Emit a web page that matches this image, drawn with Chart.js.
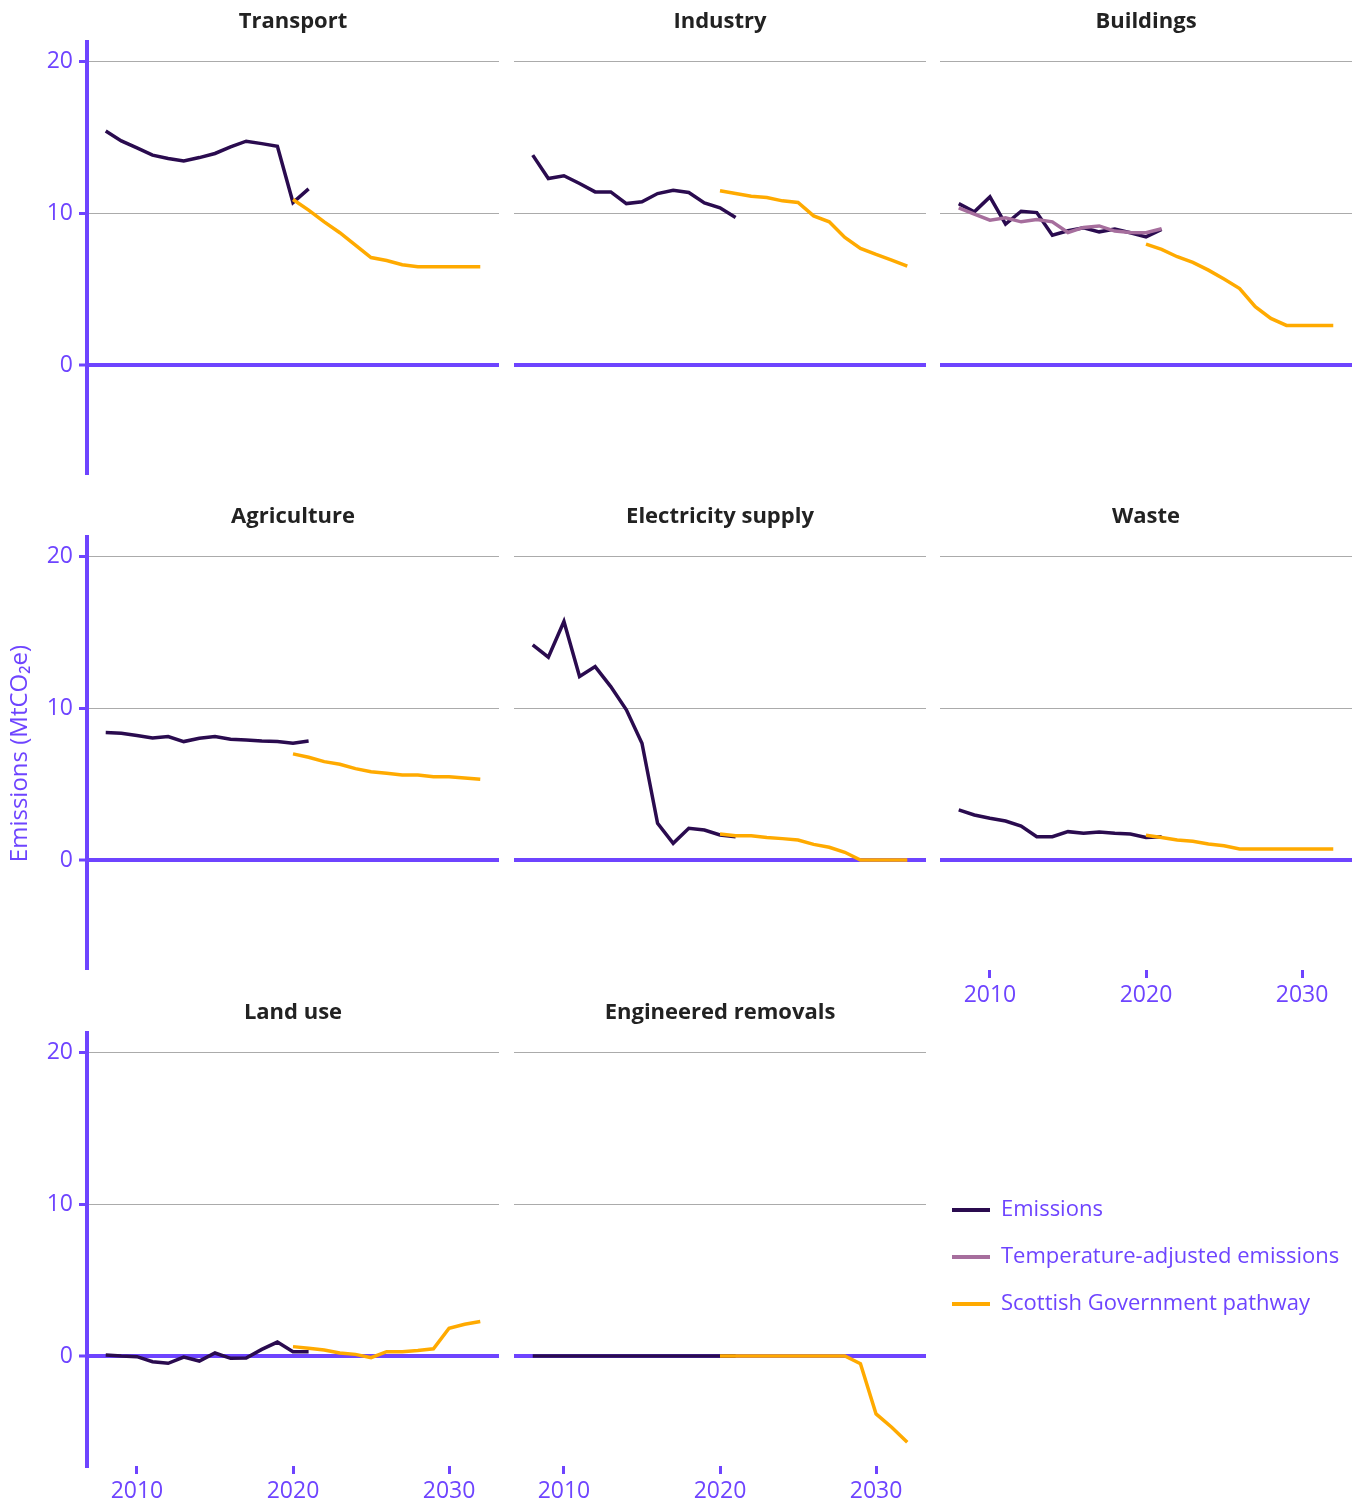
<!DOCTYPE html>
<html>
<head>
<meta charset="utf-8">
<script src="https://cdn.jsdelivr.net/npm/chart.js@4.4.1/dist/chart.umd.min.js"></script>
<style>
  html, body { margin: 0; padding: 0; background: #ffffff; overflow: hidden; }
  body { width: 1365px; height: 1503px; position: relative; }
  canvas { position: absolute; }
</style>
</head>
<body>
<script>
// ---------------- DATA ----------------
const emissionYears = [2008, 2009, 2010, 2011, 2012, 2013, 2014, 2015, 2016, 2017, 2018, 2019, 2020, 2021];
const pathwayYears  = [2020, 2021, 2022, 2023, 2024, 2025, 2026, 2027, 2028, 2029, 2030, 2031, 2032];

const sectorNames = ["Transport", "Industry", "Buildings", "Agriculture", "Electricity supply", "Waste", "Land use", "Engineered removals"];
const seriesNames = ["Emissions", "Temperature-adjusted emissions", "Scottish Government pathway"];

const transportEmissions   = [15.41, 14.76, 14.30, 13.82, 13.60, 13.44, 13.66, 13.93, 14.36, 14.74, 14.58, 14.41, 10.70, 11.60];
const transportPathway     = [10.90, 10.20, 9.43, 8.71, 7.89, 7.08, 6.88, 6.60, 6.47, 6.47, 6.47, 6.47, 6.47];

const industryEmissions    = [13.82, 12.28, 12.46, 11.95, 11.40, 11.40, 10.63, 10.75, 11.29, 11.51, 11.36, 10.68, 10.35, 9.71];
const industryPathway      = [11.47, 11.29, 11.12, 11.03, 10.81, 10.70, 9.82, 9.43, 8.40, 7.68, 7.28, 6.91, 6.51];

const buildingsEmissions   = [10.63, 10.09, 11.07, 9.28, 10.13, 10.04, 8.55, 8.84, 9.03, 8.77, 8.95, 8.71, 8.44, 8.93];
const buildingsTempAdj     = [10.35, 9.93, 9.54, 9.69, 9.43, 9.58, 9.43, 8.73, 9.06, 9.16, 8.82, 8.73, 8.71, 8.97];
const buildingsPathway     = [7.96, 7.61, 7.13, 6.76, 6.25, 5.66, 5.04, 3.84, 3.07, 2.61, 2.61, 2.61, 2.61];

const agricultureEmissions = [8.39, 8.35, 8.20, 8.04, 8.13, 7.80, 8.02, 8.13, 7.96, 7.91, 7.84, 7.80, 7.69, 7.84];
const agriculturePathway   = [6.99, 6.77, 6.48, 6.31, 6.02, 5.82, 5.71, 5.60, 5.60, 5.49, 5.49, 5.40, 5.32];

const electricityEmissions = [14.17, 13.36, 15.71, 12.08, 12.74, 11.42, 9.89, 7.69, 2.42, 1.10, 2.09, 1.98, 1.65, 1.54];
const electricityPathway   = [1.71, 1.60, 1.60, 1.49, 1.41, 1.32, 1.03, 0.84, 0.51, 0, 0, 0, 0];

const wasteEmissions       = [3.30, 2.97, 2.75, 2.57, 2.24, 1.54, 1.54, 1.87, 1.76, 1.85, 1.76, 1.71, 1.49, 1.54];
const wastePathway         = [1.63, 1.49, 1.32, 1.23, 1.05, 0.94, 0.73, 0.73, 0.73, 0.73, 0.73, 0.73, 0.73];

const landUseEmissions     = [0.07, 0.00, -0.04, -0.37, -0.48, -0.07, -0.33, 0.20, -0.15, -0.13, 0.44, 0.92, 0.29, 0.29];
const landUsePathway       = [0.62, 0.51, 0.40, 0.20, 0.11, -0.11, 0.29, 0.29, 0.37, 0.48, 1.83, 2.09, 2.27];

const removalsEmissions    = [0, 0, 0, 0, 0, 0, 0, 0, 0, 0, 0, 0, 0, 0];
const removalsPathway      = [0, 0, 0, 0, 0, 0, 0, 0, 0, -0.50, -3.81, -4.69, -5.68];

const xTickValues = [2010, 2020, 2030];
const xTickLabels = ["2010", "2020", "2030"];
const yTickValues = [0, 10, 20];
const yTickLabels = ["0", "10", "20"];
const yAxisTitle = "Emissions (MtCO\u2082e)";

// ---------------- STYLE / LAYOUT ----------------
const PURPLE = "#6E44FF";
const GRID = "#ababab";
const C_EM = "#2A0B4F";
const C_TA = "#A66E9D";
const C_PW = "#FFAA00";
const LINE_W = 3.5;
const X_MIN = 2006.8, X_MAX = 2033.2;
const Y_MIN = -7.24, Y_MAX = 21.27;

Chart.defaults.font.family = "'Open Sans', 'DejaVu Sans', sans-serif";

const panelSeries = [
  [transportEmissions, null, transportPathway],
  [industryEmissions, null, industryPathway],
  [buildingsEmissions, buildingsTempAdj, buildingsPathway],
  [agricultureEmissions, null, agriculturePathway],
  [electricityEmissions, null, electricityPathway],
  [wasteEmissions, null, wastePathway],
  [landUseEmissions, null, landUsePathway],
  [removalsEmissions, null, removalsPathway]
];

const colLeft = [87, 514, 940];
const rowTop = [42, 537, 1033];
const plotW = 412, plotH = 433, titleH = 42;

function toPoints(xs, ys) { return xs.map((x, k) => ({ x: x, y: ys[k] })); }

sectorNames.forEach((name, i) => {
  const col = i % 3, row = Math.floor(i / 3);
  const showY = col === 0;
  const showX = row === 2 || i === 5;
  const yAxisW = showY ? 87 : 0;
  const xAxisH = showX ? (row === 2 ? 37 : 40) : 0;
  const left = colLeft[col] - yAxisW;
  const top = rowTop[row] - titleH;
  const w = plotW + yAxisW, h = titleH + plotH + xAxisH;

  const cv = document.createElement('canvas');
  cv.width = w; cv.height = h;
  cv.style.left = left + 'px'; cv.style.top = top + 'px';
  cv.style.width = w + 'px'; cv.style.height = h + 'px';
  document.body.appendChild(cv);

  const [em, ta, pw] = panelSeries[i];
  const datasets = [
    { label: seriesNames[0], data: toPoints(emissionYears, em), borderColor: C_EM, borderWidth: LINE_W, pointRadius: 0, order: 3 }
  ];
  if (ta) datasets.push({ label: seriesNames[1], data: toPoints(emissionYears, ta), borderColor: C_TA, borderWidth: LINE_W, pointRadius: 0, order: 2 });
  datasets.push({ label: seriesNames[2], data: toPoints(pathwayYears, pw), borderColor: C_PW, borderWidth: LINE_W, pointRadius: 0, order: 1 });

  new Chart(cv, {
    type: 'line',
    data: { datasets: datasets },
    options: {
      responsive: false, animation: false, devicePixelRatio: 1,
      layout: { padding: 0 },
      plugins: {
        legend: { display: false },
        tooltip: { enabled: false },
        title: {
          display: true, text: name, fullSize: false, color: '#222222',
          font: { size: 22, weight: 'bold', lineHeight: '24px' },
          padding: { top: 10, bottom: 8 }
        }
      },
      scales: {
        x: {
          type: 'linear', min: X_MIN, max: X_MAX, display: showX,
          afterBuildTicks: s => { s.ticks = xTickValues.map(v => ({ value: v })); },
          afterFit: s => { s.height = xAxisH; s.paddingLeft = 0; s.paddingRight = 0; s.paddingTop = 0; s.paddingBottom = 0; },
          border: { display: false },
          grid: { drawOnChartArea: false, drawTicks: true, tickLength: 8, tickColor: PURPLE, tickWidth: 3 },
          ticks: { color: PURPLE, font: { size: 23 }, padding: 4, maxRotation: 0, autoSkip: false,
                   callback: (v, idx) => xTickLabels[idx] }
        },
        y: {
          type: 'linear', min: Y_MIN, max: Y_MAX, display: true,
          afterBuildTicks: s => { s.ticks = yTickValues.map(v => ({ value: v })); },
          afterFit: s => { s.width = yAxisW; s.paddingTop = 0; s.paddingBottom = 0; s.paddingLeft = 0; s.paddingRight = 0; },
          border: { display: showY, color: PURPLE, width: 4 },
          grid: {
            color: c => (c.tick && c.tick.value === 0) ? PURPLE : GRID,
            lineWidth: c => (c.tick && c.tick.value === 0) ? 4 : 1,
            drawTicks: showY, tickLength: 8, tickColor: PURPLE, tickWidth: 3
          },
          ticks: { display: showY, color: PURPLE, font: { size: 23 }, padding: 6,
                   callback: (v, idx) => yTickLabels[idx] },
          title: { display: i === 3, text: yAxisTitle, color: PURPLE, font: { size: 24 }, padding: { top: 6, bottom: 0 } }
        }
      }
    }
  });
});

// ---------------- LEGEND (empty chart in 9th cell) ----------------
const lg = document.createElement('canvas');
lg.width = 1000; lg.height = 200;
lg.style.left = '927px'; lg.style.top = '1174px';
lg.style.width = '1000px'; lg.style.height = '200px';
document.body.appendChild(lg);
new Chart(lg, {
  type: 'line',
  data: { datasets: [
    { label: seriesNames[0], data: [], borderColor: C_EM, borderWidth: 4 },
    { label: seriesNames[1], data: [], borderColor: C_TA, borderWidth: 4 },
    { label: seriesNames[2], data: [], borderColor: C_PW, borderWidth: 4 }
  ] },
  options: {
    responsive: false, animation: false, devicePixelRatio: 1,
    layout: { padding: 0 },
    scales: { x: { display: false }, y: { display: false } },
    plugins: {
      tooltip: { enabled: false },
      title: { display: false },
      legend: {
        position: 'left', align: 'start',
        labels: {
          usePointStyle: true, pointStyle: 'line', pointStyleWidth: 38, boxWidth: 38,
          font: { size: 22 }, color: PURPLE, padding: 25,
          generateLabels: chart => chart.data.datasets.map((d, k) => ({
            text: d.label, strokeStyle: d.borderColor, fillStyle: d.borderColor,
            lineWidth: 4, pointStyle: 'line', hidden: false, datasetIndex: k, fontColor: PURPLE
          }))
        }
      }
    }
  }
});
</script>
</body>
</html>
